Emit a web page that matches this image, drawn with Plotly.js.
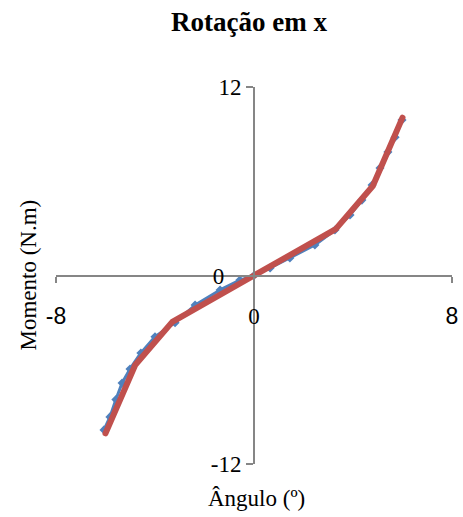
<!DOCTYPE html>
<html>
<head>
<meta charset="utf-8">
<script src="https://cdn.plot.ly/plotly-3.0.1.min.js"></script>
<style>
  body { margin: 0; background: #fff; }
  #myPlot { width: 463px; height: 517px; }
  #myPlot .scatterlayer path.js-line { stroke-linecap: round; stroke-linejoin: round; }
</style>
</head>
<body>
<div id="myPlot"></div>
<script>
// ensaio (azul, pontos) e curva ajustada (vermelho)
const anguloEnsaio = [-6.06, -5.82, -5.58, -5.33, -5.01, -4.57, -4.0, -3.19, -2.38, -1.37, -0.57, 0, 0.65, 1.45, 2.46, 3.27, 3.88, 4.36, 4.77, 5.09, 5.41, 5.7, 5.98];
const momentoEnsaio = [-9.83, -9.0, -7.9, -6.84, -5.95, -4.93, -3.9, -3.0, -1.88, -0.92, -0.29, 0, 0.48, 1.11, 1.94, 2.9, 3.85, 4.8, 5.76, 6.84, 7.86, 8.8, 9.9];
const anguloModelo = [-6.0, -4.8, -3.3, 0, 3.3, 4.8, 6.0];
const momentoModelo = [-10.05, -5.7, -2.95, -0.05, 2.95, 5.7, 10.05];
const xTicks = [-8, 0, 8];
const xTickText = ['<span style="font-family:Liberation Sans">-8</span>', '0', '<span style="font-family:Liberation Sans">8</span>'];
const yTicks = [-12, 0, 12];
const yTickText = ['-12', '0\u00a0\u00a0\u00a0', '12'];

const serif = "Liberation Serif, Times New Roman, serif";
const cinza = "#868686";

const ensaio = {
    x: anguloEnsaio,
    y: momentoEnsaio,
    mode: "lines+markers",
    line: {color: "#4F81BD", width: 3},
    marker: {color: "#4F81BD", symbol: "diamond", size: 7},
    showlegend: false
};
const modelo = {
    x: anguloModelo,
    y: momentoModelo,
    mode: "lines",
    line: {color: "#C0504D", width: 6},
    showlegend: false
};

const layout = {
    width: 463,
    height: 517,
    paper_bgcolor: "#fff",
    plot_bgcolor: "#fff",
    margin: {l: 56, r: 11, t: 87, b: 53},
    font: {family: serif, size: 23, color: "#000"},
    title: {
        text: "<b>Rotação em x</b>",
        font: {family: serif, size: 27, color: "#000"},
        xref: "container", yref: "container",
        x: 0.538, y: 1 - 22 / 517,
        xanchor: "center", yanchor: "middle"
    },
    xaxis: {
        range: [-8, 8],
        anchor: "free", position: 0.5,
        showgrid: false, zeroline: false,
        showline: true, linecolor: cinza, linewidth: 2,
        ticks: "outside", ticklen: 6, tickcolor: cinza, tickwidth: 2,
        tickvals: xTicks, ticktext: xTickText,
        ticklabelstandoff: 14,
        tickfont: {family: serif, size: 23, color: "#000"}
    },
    yaxis: {
        range: [-12, 12],
        anchor: "free", position: 0.5,
        showgrid: false, zeroline: false,
        showline: true, linecolor: cinza, linewidth: 2,
        ticks: "outside", ticklen: 7, tickcolor: cinza, tickwidth: 2,
        tickvals: yTicks, ticktext: yTickText,
        tickfont: {family: serif, size: 23, color: "#000"}
    },
    annotations: [
        {text: "Ângulo (º)", xref: "paper", yref: "paper", x: (256 - 56) / 396, y: (517 - 498 - 53) / 377,
         xanchor: "center", yanchor: "middle", showarrow: false, font: {family: serif, size: 23}},
        {text: "Momento (N.m)", xref: "paper", yref: "paper", x: (28 - 56) / 396, y: 0.5,
         xanchor: "center", yanchor: "middle", textangle: -90, showarrow: false, font: {family: serif, size: 23}}
    ]
};

Plotly.newPlot("myPlot", [ensaio, modelo], layout, {displayModeBar: false, staticPlot: true});
</script>
</body>
</html>
